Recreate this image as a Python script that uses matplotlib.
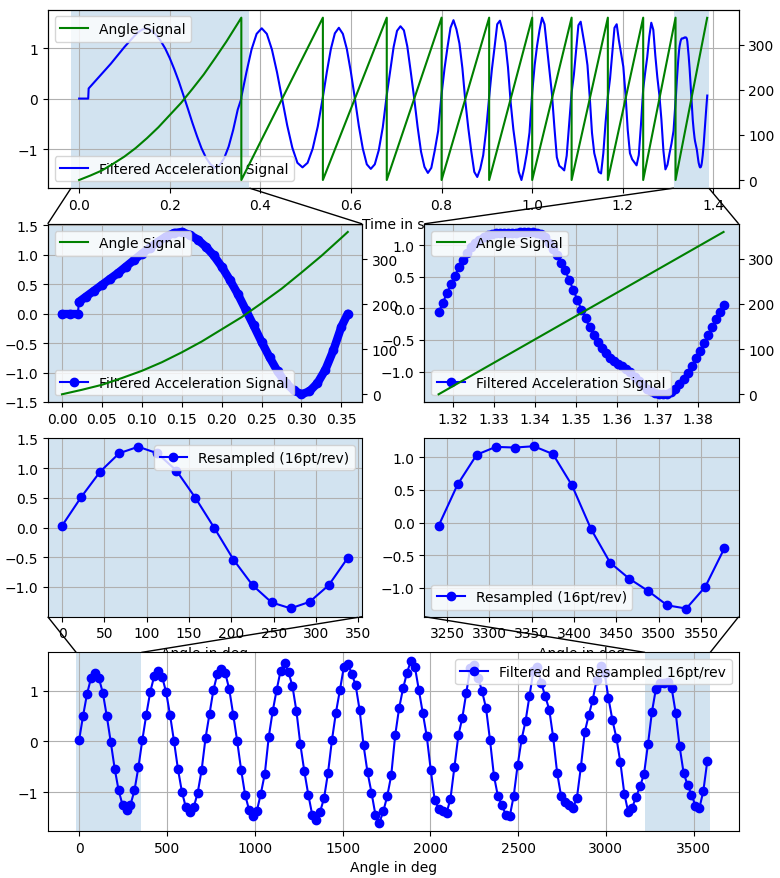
import matplotlib
matplotlib.use('Agg')
import matplotlib.pyplot as plt
import numpy as np
from matplotlib.transforms import Bbox, TransformedBbox, blended_transform_factory
from mpl_toolkits.axes_grid1.inset_locator import BboxPatch, BboxConnector

# times (s) where the angle signal wraps from 360 back to 0
rev_times = [0.0, 0.358, 0.538, 0.679, 0.800, 0.905, 1.000, 1.087, 1.167, 1.245, 1.3164]
t_end = 1.3862
last_angle = 359.6

# first revolution, angle signal (deg)
rev0_t = [0.0, 0.025, 0.05, 0.075, 0.1, 0.125, 0.15, 0.175, 0.2, 0.225,
          0.25, 0.275, 0.3, 0.325, 0.35, 0.358]
rev0_angle = [0, 10, 21, 36, 52, 71, 93, 117, 144, 171, 202, 234, 270, 307, 347, 360]

# first revolution, filtered acceleration in time domain
first_t = [0.000, 0.010, 0.020, 0.021, 0.030, 0.040, 0.050, 0.060, 0.070, 0.080,
           0.090, 0.100, 0.110, 0.120, 0.130, 0.140, 0.150, 0.160, 0.170, 0.180,
           0.190, 0.200, 0.210, 0.220, 0.230, 0.240, 0.250, 0.260, 0.270, 0.280,
           0.290, 0.300, 0.310, 0.320, 0.330, 0.340, 0.350, 0.358]
first_acc = [0.00, 0.00, 0.00, 0.20, 0.29, 0.39, 0.49, 0.59, 0.69, 0.80,
             0.91, 1.02, 1.12, 1.22, 1.31, 1.37, 1.39, 1.34, 1.26, 1.14,
             0.99, 0.80, 0.58, 0.34, 0.07, -0.20, -0.48, -0.74, -0.98, -1.17,
             -1.30, -1.37, -1.32, -1.18, -0.95, -0.62, -0.22, 0.00]

# last revolution, sampled at 1 kHz
fs = 1000.0
last_acc = [-0.06, 0.08, 0.24, 0.38, 0.52, 0.65, 0.77, 0.88, 0.97, 1.04,
            1.09, 1.13, 1.16, 1.18, 1.19, 1.19, 1.19, 1.19, 1.20, 1.20,
            1.21, 1.21, 1.21, 1.21, 1.20, 1.18, 1.13, 1.04, 0.94, 0.84,
            0.72, 0.60, 0.45, 0.29, 0.13, -0.02, -0.16, -0.30, -0.42, -0.53,
            -0.62, -0.71, -0.78, -0.84, -0.88, -0.92, -0.96, -1.01, -1.08, -1.15,
            -1.21, -1.27, -1.31, -1.34, -1.36, -1.36, -1.35, -1.32, -1.27, -1.20,
            -1.12, -1.03, -0.92, -0.79, -0.67, -0.55, -0.42, -0.30, -0.17, -0.05,
            0.06]

# second revolution in time (not in the resampled set)
acc_time_rev1 = [0.03, 0.52, 0.97, 1.28, 1.39, 1.28, 0.97, 0.52,
                 0.00, -0.53, -0.97, -1.27, -1.36, -1.27, -0.99, -0.55]

# filtered and resampled, 16 points per revolution
pts_per_rev = 16
acc_resampled = [
    0.03, 0.51, 0.94, 1.25, 1.36, 1.25, 0.96, 0.50, -0.01, -0.54, -0.97, -1.26, -1.36, -1.25, -0.97, -0.51,
    0.03, 0.53, 0.98, 1.29, 1.40, 1.28, 0.98, 0.53, 0.01, -0.54, -0.99, -1.30, -1.39, -1.30, -1.02, -0.57,
    0.07, 0.55, 1.02, 1.34, 1.43, 1.35, 1.03, 0.53, 0.01, -0.56, -1.05, -1.35, -1.47, -1.37, -1.03, -0.64,
    0.09, 0.60, 1.02, 1.40, 1.55, 1.37, 1.09, 0.60, -0.06, -0.59, -1.05, -1.45, -1.55, -1.39, -1.12, -0.62,
    0.03, 0.57, 1.01, 1.47, 1.54, 1.34, 1.11, 0.62, -0.08, -0.61, -1.01, -1.45, -1.61, -1.38, -1.08, -0.67,
    0.12, 0.66, 1.05, 1.36, 1.60, 1.47, 1.01, 0.56, 0.10, -0.56, -1.16, -1.33, -1.37, -1.42, -1.13, -0.50,
    0.12, 0.47, 0.96, 1.45, 1.52, 1.26, 0.99, 0.66, 0.03, -0.68, -1.08, -1.26, -1.45, -1.48, -1.08, -0.47,
    0.04, 0.40, 0.90, 1.40, 1.47, 1.15, 0.89, 0.63, 0.08, -0.62, -1.08, -1.20, -1.26, -1.32, -1.12, -0.51,
    0.19, 0.52, 0.82, 1.22, 1.50, 1.36, 0.85, 0.42, 0.07, -0.41, -1.03, -1.40, -1.31, -1.09, -0.89, -0.64,
    -0.05, 0.585, 1.04, 1.16, 1.15, 1.17, 1.05, 0.57, -0.10, -0.615, -0.86, -1.05, -1.27, -1.32, -0.985, -0.395,
]


def zoom_effect(ax_main, ax_zoom, zoom_below=True):
    """Shade the zoomed range on ax_main and connect it to ax_zoom."""
    x0, x1 = ax_zoom.get_xlim()
    trans = blended_transform_factory(ax_main.transData, ax_main.transAxes)
    span = TransformedBbox(Bbox.from_extents(x0, 0, x1, 1), trans)
    ax_main.add_patch(BboxPatch(span, fc='C0', ec='none', alpha=0.2))
    ax_zoom.add_patch(BboxPatch(ax_zoom.bbox, fc='C0', ec='none', alpha=0.2))
    if zoom_below:
        locs = [(2, 3), (1, 4)]
    else:
        locs = [(3, 2), (4, 1)]
    for loc1, loc2 in locs:
        con = BboxConnector(ax_zoom.bbox, span, loc1=loc1, loc2=loc2,
                            ec='k', lw=1.0, clip_on=False)
        ax_zoom.add_patch(con)


def create_plot():
    fig = plt.figure(figsize=(7.8, 8.79), dpi=100)
    gs = fig.add_gridspec(4, 2, left=0.0612, right=0.947, top=0.988,
                          bottom=0.0535, wspace=0.198, hspace=0.2)
    ax_top = fig.add_subplot(gs[0, :])
    ax_tl = fig.add_subplot(gs[1, 0])
    ax_tr = fig.add_subplot(gs[1, 1])
    ax_al = fig.add_subplot(gs[2, 0])
    ax_ar = fig.add_subplot(gs[2, 1])
    ax_bot = fig.add_subplot(gs[3, :])

    last_t = rev_times[-1] + np.arange(len(last_acc)) / fs
    acc = np.array(acc_resampled)
    angles = np.arange(len(acc)) * 360.0 / pts_per_rev

    # time signal: first rev, revs 1..9 from per-rev values, last rev
    frac = np.arange(pts_per_rev) / pts_per_rev
    t_parts = [np.array(first_t)]
    v_parts = [np.array(first_acc)]
    for k in range(1, len(rev_times) - 1):
        t0, t1 = rev_times[k], rev_times[k + 1]
        if k == 1:
            vals = acc_time_rev1
        else:
            vals = acc[(k - 1) * pts_per_rev:k * pts_per_rev]
        t_parts.append(t0 + frac * (t1 - t0))
        v_parts.append(np.array(vals))
    t_parts.append(last_t)
    v_parts.append(np.array(last_acc))
    acc_t = np.concatenate(t_parts)
    acc_v = np.concatenate(v_parts)

    # angle sawtooth
    ang_t = list(rev0_t)
    ang_v = list(rev0_angle)
    bounds = rev_times[1:] + [t_end]
    for k in range(1, len(bounds)):
        ang_t += [bounds[k - 1], bounds[k]]
        ang_v += [0, last_angle if k == len(bounds) - 1 else 360]

    # top: full record
    ax_top.plot(acc_t, acc_v, 'b-', label='Filtered Acceleration Signal')
    ax_top.set_yticks([-1, 0, 1])
    ax_top.set_xlabel('Time in s')
    ax_top.grid(True)
    ax_top.legend(loc='lower left')
    ax_top2 = ax_top.twinx()
    ax_top2.plot(ang_t, ang_v, 'g-', label='Angle Signal')
    ax_top2.set_yticks([0, 100, 200, 300])
    ax_top2.legend(loc='upper left')

    # first revolution in time
    n_flat = 3
    ax_tl.plot(first_t[:n_flat], first_acc[:n_flat], 'b-', lw=6,
               solid_capstyle='round')
    ax_tl.plot(first_t[n_flat:], first_acc[n_flat:], 'b-', lw=6,
               solid_capstyle='round', solid_joinstyle='round')
    ax_tl.plot(first_t, first_acc, 'bo-', label='Filtered Acceleration Signal')
    ax_tl.set_xticks(np.arange(0, 0.36, 0.05))
    ax_tl.set_yticks(np.arange(-1.5, 1.6, 0.5))
    ax_tl.grid(True)
    ax_tl.legend(loc='lower left')
    ax_tl2 = ax_tl.twinx()
    ax_tl2.plot(rev0_t, rev0_angle, 'g-', label='Angle Signal')
    ax_tl2.set_yticks([0, 100, 200, 300])
    ax_tl2.legend(loc='upper left')

    # last revolution in time
    ax_tr.plot(last_t, last_acc, 'bo-', label='Filtered Acceleration Signal')
    ax_tr.set_xticks(np.arange(1.32, 1.385, 0.01))
    ax_tr.set_yticks(np.arange(-1.0, 1.1, 0.5))
    ax_tr.grid(True)
    ax_tr.legend(loc='lower left')
    ax_tr2 = ax_tr.twinx()
    ax_tr2.plot([rev_times[-1], t_end], [0, last_angle], 'g-',
                label='Angle Signal')
    ax_tr2.set_yticks([0, 100, 200, 300])
    ax_tr2.legend(loc='upper left')

    # resampled, first and last revolution
    n = pts_per_rev
    ax_al.plot(angles[:n], acc[:n], 'bo-', label='Resampled (16pt/rev)')
    ax_al.set_xticks(np.arange(0, 351, 50))
    ax_al.set_ylim(-1.5, 1.505)
    ax_al.set_yticks(np.arange(-1.0, 1.6, 0.5))
    ax_al.set_xlabel('Angle in deg')
    ax_al.grid(True)
    ax_al.legend(loc='upper right')

    ax_ar.plot(angles[-n:], acc[-n:], 'bo-', label='Resampled (16pt/rev)')
    ax_ar.set_xticks(np.arange(3250, 3551, 50))
    ax_ar.set_yticks(np.arange(-1.0, 1.1, 0.5))
    ax_ar.set_xlabel('Angle in deg')
    ax_ar.grid(True)
    ax_ar.legend(loc='lower left')

    # resampled, whole record
    ax_bot.plot(angles, acc, 'bo-', label='Filtered and Resampled 16pt/rev')
    ax_bot.set_yticks([-1, 0, 1])
    ax_bot.set_xlabel('Angle in deg')
    ax_bot.grid(True)
    ax_bot.legend(loc='upper right')

    zoom_effect(ax_top, ax_tl, zoom_below=True)
    zoom_effect(ax_top, ax_tr, zoom_below=True)
    zoom_effect(ax_bot, ax_al, zoom_below=False)
    zoom_effect(ax_bot, ax_ar, zoom_below=False)

    fig.savefig('out.png', dpi=100)


if __name__ == '__main__':
    create_plot()
